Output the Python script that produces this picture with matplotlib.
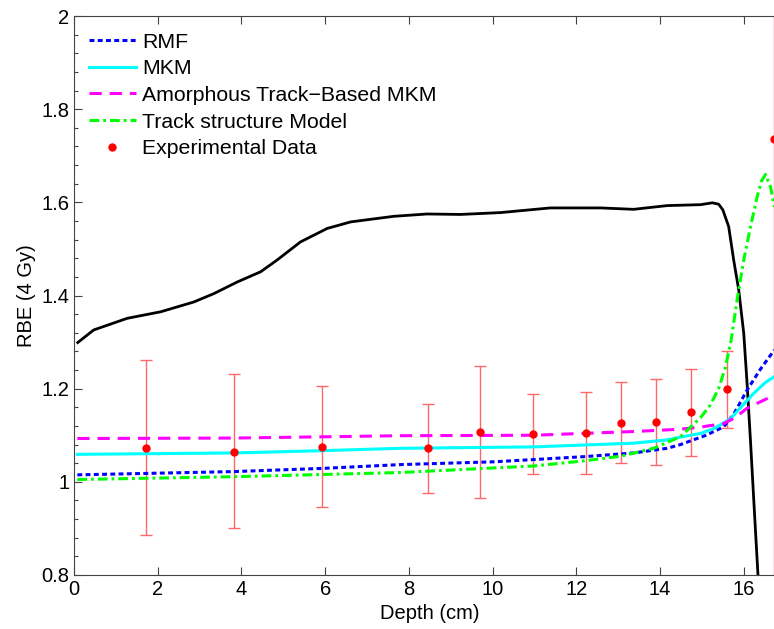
import matplotlib
matplotlib.use('Agg')
import matplotlib.pyplot as plt
import numpy as np

plt.rcParams['font.family'] = ['Liberation Sans', 'DejaVu Sans']

# Dose curve (black)
dose_x = [0.09, 0.47, 1.27, 2.07, 2.86, 3.34, 3.90, 4.46, 4.85, 5.41, 6.05, 6.61,
          7.64, 8.44, 9.23, 10.19, 11.38, 12.58, 13.37, 14.17, 14.97, 15.25, 15.40,
          15.50, 15.64, 15.76, 15.88, 16.00, 16.08, 16.16, 16.24, 16.34, 16.45]
dose_y = [1.299, 1.326, 1.351, 1.365, 1.386, 1.404, 1.429, 1.451, 1.476, 1.515, 1.544, 1.558,
          1.570, 1.575, 1.574, 1.578, 1.588, 1.588, 1.585, 1.593, 1.595, 1.599, 1.596,
          1.584, 1.548, 1.476, 1.412, 1.319, 1.211, 1.090, 0.960, 0.800, 0.620]

# RMF
rmf_x = [0.08, 3.82, 5.97, 7.80, 10.03, 12.18, 13.37, 14.17, 14.49, 14.73, 15.10, 15.52,
         15.76, 16.08, 16.40, 16.73]
rmf_y = [1.015, 1.022, 1.029, 1.037, 1.043, 1.054, 1.062, 1.072, 1.080, 1.088, 1.100, 1.118,
         1.145, 1.197, 1.242, 1.283]

# MKM
mkm_x = [0.08, 3.82, 5.97, 7.80, 10.98, 13.37, 14.17, 14.49, 14.97, 15.30, 15.68, 15.95,
         16.24, 16.50, 16.73]
mkm_y = [1.059, 1.062, 1.067, 1.072, 1.075, 1.083, 1.090, 1.096, 1.104, 1.115, 1.135, 1.162,
         1.190, 1.212, 1.226]

# Amorphous track-based MKM
atmkm_x = [0.08, 3.82, 7.80, 10.98, 13.37, 14.49, 15.00, 15.52, 15.80, 16.08, 16.40, 16.73]
atmkm_y = [1.093, 1.094, 1.099, 1.100, 1.108, 1.113, 1.118, 1.125, 1.138, 1.158, 1.172, 1.186]

# Track structure model
tsm_x = [0.08, 3.82, 7.80, 10.98, 12.18, 13.06, 13.85, 14.49, 14.97, 15.20, 15.40, 15.56,
         15.70, 15.84, 16.00, 16.16, 16.32, 16.42, 16.52, 16.64, 16.73]
tsm_y = [1.005, 1.011, 1.020, 1.034, 1.045, 1.055, 1.072, 1.097, 1.138, 1.165, 1.200, 1.245,
         1.305, 1.390, 1.476, 1.547, 1.612, 1.645, 1.660, 1.633, 1.590]

# Experimental data with error bars
exp_x = [1.71, 3.82, 5.93, 8.45, 9.70, 10.97, 12.23, 13.06, 13.91, 14.74, 15.59, 16.72]
exp_y = [1.073, 1.065, 1.075, 1.073, 1.106, 1.102, 1.105, 1.126, 1.128, 1.150, 1.199, 1.737]
exp_top = [1.261, 1.232, 1.206, 1.168, 1.249, 1.188, 1.192, 1.214, 1.221, 1.243, 1.281, 2.900]
exp_bot = [0.886, 0.900, 0.946, 0.977, 0.965, 1.016, 1.017, 1.040, 1.037, 1.056, 1.115, 0.500]

fig = plt.figure(figsize=(7.74, 6.29), dpi=100)
ax = fig.add_axes([74 / 774, 54 / 629, 711.6 / 774, 559 / 629])

exp_y_arr = np.array(exp_y)
yerr = [exp_y_arr - np.array(exp_bot), np.array(exp_top) - exp_y_arr]
ax.errorbar(exp_x, exp_y, yerr=yerr, fmt='none', ecolor='#ff6868', elinewidth=1.0,
            capsize=4.3, capthick=1.0, zorder=1)

ax.plot(dose_x, dose_y, color='black', lw=2.0, zorder=2)
ax.plot(rmf_x, rmf_y, color='#0000ff', lw=2.2, dashes=(1.6, 1.1), label='RMF', zorder=3)
ax.plot(mkm_x, mkm_y, color='#00ffff', lw=2.2, label='MKM', zorder=3)
ax.plot(atmkm_x, atmkm_y, color='#ff00ff', lw=2.2, dashes=(4.0, 2.6),
        label='Amorphous Track\u2212Based MKM', zorder=3)
ax.plot(tsm_x, tsm_y, color='#00ff00', lw=2.2, dashes=(3.2, 1.3, 0.9, 1.3),
        label='Track structure Model', zorder=3)
ax.plot(exp_x, exp_y, 'o', color='red', ms=5, mec='red', label='Experimental Data', zorder=4)

ax.set_xlim(0, 17)
ax.set_ylim(0.8, 2.0)
ax.set_xticks(np.arange(0, 17, 2))
ax.set_yticks([0.8, 1.0, 1.2, 1.4, 1.6, 1.8, 2.0])
ax.set_yticklabels(['0.8', '1', '1.2', '1.4', '1.6', '1.8', '2'])
ax.set_yticks(np.arange(0.8, 2.0001, 0.04), minor=True)
ax.tick_params(which='both', direction='in', top=True, right=True, labelsize=14.5,
               width=0.8, color='#444444')
ax.tick_params(which='major', length=6)
ax.tick_params(which='minor', length=3)
for sp in ax.spines.values():
    sp.set_linewidth(0.8)
    sp.set_color('#444444')

ax.set_xlabel('Depth (cm)', fontsize=14.5, labelpad=4)
ax.set_ylabel('RBE (4 Gy)', fontsize=14.5, labelpad=4)

leg = ax.legend(loc='upper left', frameon=False, fontsize=15.3, handlelength=2.2,
                handletextpad=0.3, labelspacing=0.36, borderaxespad=0.3,
                bbox_to_anchor=(0.0, 0.997))

fig.savefig('out.png', dpi=100)
